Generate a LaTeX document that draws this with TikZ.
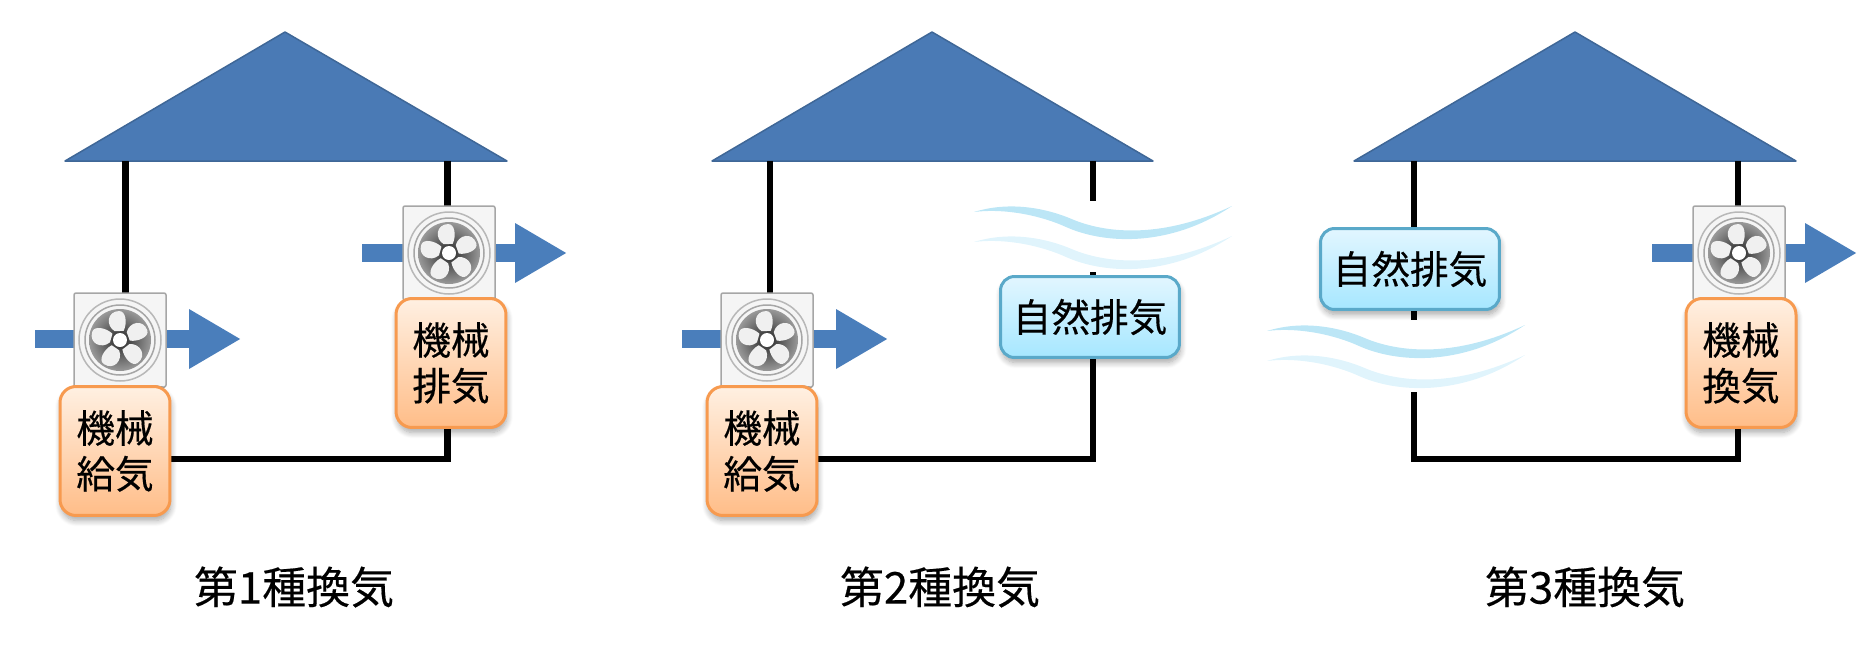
\documentclass[tikz,border=0pt]{standalone}
\usepackage{fontspec}
\newfontfamily\jpfont[FakeBold=0.35]{Noto Sans CJK JP}
\usetikzlibrary{arrows.meta,shadows.blur}

\definecolor{roofblue}{HTML}{4A7AB5}
\definecolor{roofedge}{HTML}{3F6797}
\definecolor{flowblue}{HTML}{4A7EBB}
\definecolor{mechedge}{HTML}{F79A4F}
\definecolor{mechtop}{HTML}{FFF0E2}
\definecolor{mechbottom}{HTML}{FFBD88}
\definecolor{natedge}{HTML}{5AA9C9}
\definecolor{nattop}{HTML}{E2F6FF}
\definecolor{natbottom}{HTML}{A6E7FF}
\definecolor{gustdark}{HTML}{BCE6F6}
\definecolor{gustlight}{HTML}{E0F4FC}

\tikzset{
	roof/.style={fill=roofblue, draw=roofedge, line width=0.03cm, line join=round},
	wall/.style={line width=0.13cm, line join=miter},
	airflow/.style={flowblue, line width=0.36cm, -{Triangle[length=1.04cm,width=1.12cm]}},
	mechbox/.style={draw=mechedge, line width=0.06cm, rounded corners=0.32cm,
		top color=mechtop, bottom color=mechbottom, minimum width=2.2cm, minimum height=2.58cm,
		align=center, font=\jpfont\fontsize{22}{26}\selectfont, inner sep=0pt,
		blur shadow={shadow xshift=0.02cm, shadow yshift=-0.1cm, shadow blur steps=8, shadow blur radius=0.12cm, shadow opacity=35}},
	natbox/.style={draw=natedge, line width=0.06cm, rounded corners=0.28cm,
		top color=nattop, bottom color=natbottom, minimum width=3.58cm, minimum height=1.62cm,
		font=\jpfont\fontsize{22}{26}\selectfont, inner sep=0pt,
		blur shadow={shadow xshift=0.02cm, shadow yshift=-0.1cm, shadow blur steps=8, shadow blur radius=0.12cm, shadow opacity=35}},
	typelabel/.style={font=\jpfont\fontsize{25}{30}\selectfont, inner sep=0pt},
	pics/fan/.style={code={
		\fill[white!96!black, draw=black!35, line width=0.03cm, rounded corners=0.04cm] (-46,-47) rectangle (46,47);
		\draw[black!28, line width=0.03cm] (0,0) circle (41);
		\draw[black!35, line width=0.03cm] (0,0) circle (35);
		\shade[inner color=black!85, outer color=black!40] (0,0) circle (31);
		\foreach \bladeangle in {20,92,164,236,308} {
			\fill[white!94!black, rotate=\bladeangle] (9,-5) .. controls (15,-14) and (29,-12) .. (29,0)
				.. controls (29,7) and (17,8) .. (9,4) -- cycle;
		}
		\fill[white] (0,0) circle (7);
	}},
	pics/gust/.style={code={
		\fill[gustdark] (0,0) .. controls (32,-10) and (68,-6) .. (100,8) .. controls (135,22) and (190,26) .. (258,-6)
			.. controls (195,36) and (130,32) .. (92,15) .. controls (68,4) and (32,-4) .. (0,0) -- cycle;
		\fill[gustlight] (0,30) .. controls (32,20) and (68,24) .. (100,38) .. controls (135,52) and (190,56) .. (258,24)
			.. controls (195,66) and (130,62) .. (92,45) .. controls (68,34) and (32,26) .. (0,30) -- cycle;
	}}
}

\begin{document}
\begin{tikzpicture}[x=0.02cm, y=-0.02cm]
	\useasboundingbox (0,0) rectangle (1874,646);

	%% First house
	\draw[roof] (285,32) -- (507,161) -- (65,161) -- cycle;
	\coordinate (wallAtl) at (125.5,161);
	\coordinate (wallAtr) at (447.5,161);
	\coordinate (wallAbl) at (125.5,459);
	\coordinate (wallAbr) at (447.5,459);
	\draw[wall] (wallAtl) -- (wallAbl) -- (wallAbr) -- (wallAtr);

	% supply fan
	\coordinate (flowAin) at (35,339);
	\coordinate (flowAout) at (241,339);
	\draw[airflow] (flowAin) -- (flowAout);
	\pic (fanA) at (120,340) {fan};
	\node[mechbox] (supplyA) at (115,451) {機械\\給気};

	% exhaust fan
	\coordinate (flowBin) at (362,253);
	\coordinate (flowBout) at (567,253);
	\draw[airflow] (flowBin) -- (flowBout);
	\pic (fanB) at (449,253) {fan};
	\node[mechbox] (exhaustB) at (451,363) {機械\\排気};

	\node[typelabel] (labelA) at (294,587) {第1種換気};

	%% Second house
	\draw[roof] (932,32) -- (1153,161) -- (712,161) -- cycle;
	\coordinate (wallCtl) at (770,161);
	\coordinate (wallCbl) at (770,459);
	\coordinate (wallCbr) at (1093,459);
	\coordinate (wallCtr) at (1093,161);
	\coordinate (wallCgapa) at (1093,201);
	\coordinate (wallCgapb) at (1093,272);
	\draw[wall] (wallCtl) -- (wallCbl) -- (wallCbr) -- (wallCgapb);
	\draw[wall] (wallCtr) -- (wallCgapa);

	% supply fan
	\coordinate (flowCin) at (682,339);
	\coordinate (flowCout) at (888,339);
	\draw[airflow] (flowCin) -- (flowCout);
	\pic (fanC) at (767,340) {fan};
	\node[mechbox] (supplyC) at (762,451) {機械\\給気};

	% natural exhaust
	\pic (gustC) at (974,212) {gust};
	\node[natbox] (naturalC) at (1090,317) {自然排気};

	\node[typelabel] (labelC) at (940,587) {第2種換気};

	%% Third house
	\draw[roof] (1575,32) -- (1796,161) -- (1354,161) -- cycle;
	\coordinate (wallDtl) at (1414,161);
	\coordinate (wallDgapa) at (1414,320);
	\coordinate (wallDgapb) at (1414,392);
	\coordinate (wallDbl) at (1414,459);
	\coordinate (wallDbr) at (1738,459);
	\coordinate (wallDtr) at (1738,161);
	\draw[wall] (wallDtl) -- (wallDgapa);
	\draw[wall] (wallDgapb) -- (wallDbl) -- (wallDbr) -- (wallDtr);

	% natural supply
	\pic (gustD) at (1267,331) {gust};
	\node[natbox] (naturalD) at (1410,269) {自然排気};

	% exhaust fan
	\coordinate (flowDin) at (1652,253);
	\coordinate (flowDout) at (1857,253);
	\draw[airflow] (flowDin) -- (flowDout);
	\pic (fanD) at (1739,253) {fan};
	\node[mechbox] (exhaustD) at (1741,363) {機械\\換気};

	\node[typelabel] (labelD) at (1585,587) {第3種換気};
\end{tikzpicture}
\end{document}
